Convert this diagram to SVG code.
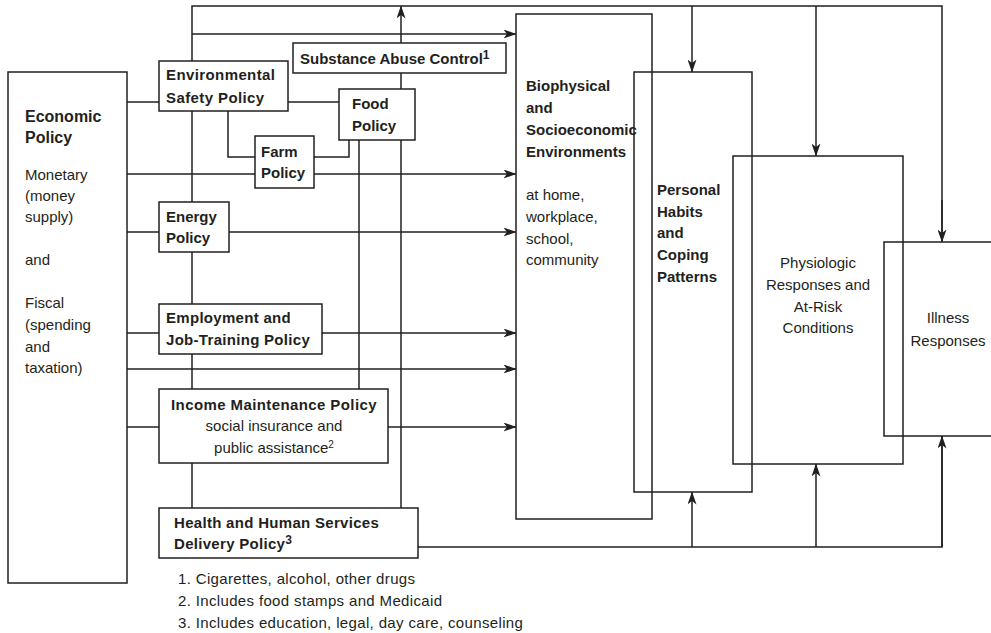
<svg xmlns="http://www.w3.org/2000/svg" width="991" height="633" viewBox="0 0 991 633">
<style>
  .box{fill:#fff;stroke:#231f20;stroke-width:1.5}
  .obox{fill:none;stroke:#231f20;stroke-width:1.5}
  .ln{fill:none;stroke:#231f20;stroke-width:1.5}
  .ar{marker-end:url(#arr)}
  text{font-family:"Liberation Sans",Arial,sans-serif;fill:#231f20}
  .b{font-weight:bold;font-size:15px}
  .bb{font-weight:bold;font-size:16px}
  .r{font-size:15px}
  .f{font-size:15px;letter-spacing:0.35px}
  .m{text-anchor:middle}
</style>
<defs>
  <marker id="arr" viewBox="0 0 13 9" refX="12.5" refY="4.5" markerWidth="13" markerHeight="9" markerUnits="userSpaceOnUse" orient="auto">
    <path d="M0,0 L13,4.5 L0,9 L3.5,4.5 Z" fill="#231f20"/>
  </marker>
</defs>

<g id="connectors">
  <polyline class="ln" points="192,61 192,6 942,6 942,241"/>
  <line class="ln ar" x1="692" y1="6" x2="692" y2="72"/>
  <line class="ln ar" x1="816" y1="6" x2="816" y2="156"/>
  <line class="ln ar" x1="942" y1="200" x2="942" y2="242"/>
  <line class="ln ar" x1="192" y1="34" x2="516" y2="34"/>
  <line class="ln ar" x1="401" y1="508" x2="401" y2="6"/>
  <line class="ln" x1="192" y1="111" x2="192" y2="508"/>
  <line class="ln" x1="127" y1="102" x2="339" y2="102"/>
  <polyline class="ln" points="228,111 228,157 255,157"/>
  <polyline class="ln" points="314,157 349,157 349,140"/>
  <line class="ln" x1="359" y1="140" x2="359" y2="389"/>
  <line class="ln ar" x1="127" y1="174" x2="516" y2="174"/>
  <line class="ln ar" x1="127" y1="232" x2="516" y2="232"/>
  <line class="ln ar" x1="127" y1="333" x2="516" y2="333"/>
  <line class="ln ar" x1="127" y1="369" x2="516" y2="369"/>
  <line class="ln ar" x1="127" y1="427" x2="516" y2="427"/>
  <polyline class="ln" points="418,547 942,547 942,436"/>
  <line class="ln ar" x1="942" y1="547" x2="942" y2="436"/>
  <line class="ln ar" x1="692" y1="547" x2="692" y2="492"/>
  <line class="ln ar" x1="816" y1="547" x2="816" y2="464"/>
</g>

<g id="economic">
  <rect class="box" x="8" y="72" width="119" height="511"/>
  <text class="bb" x="25" y="122">Economic</text>
  <text class="bb" x="25" y="143">Policy</text>
  <text class="r" x="25" y="180">Monetary</text>
  <text class="r" x="25" y="201">(money</text>
  <text class="r" x="25" y="222">supply)</text>
  <text class="r" x="25" y="265">and</text>
  <text class="r" x="25" y="308">Fiscal</text>
  <text class="r" x="25" y="330">(spending</text>
  <text class="r" x="25" y="352">and</text>
  <text class="r" x="25" y="373">taxation)</text>
</g>

<g id="substance">
  <rect class="box" x="293" y="43" width="213" height="30"/>
  <text class="b" x="300" y="64">Substance Abuse Control<tspan font-size="12" dy="-5">1</tspan></text>
</g>

<g id="environmental">
  <rect class="box" x="159" y="61" width="129" height="50"/>
  <text class="b" x="166" y="80" letter-spacing="0.4">Environmental</text>
  <text class="b" x="166" y="103" letter-spacing="0.4">Safety Policy</text>
</g>

<g id="food">
  <rect class="box" x="339" y="89" width="76" height="51"/>
  <text class="b" x="352" y="109">Food</text>
  <text class="b" x="352" y="131">Policy</text>
</g>

<g id="farm">
  <rect class="box" x="255" y="136" width="59" height="52"/>
  <text class="b" x="261" y="157">Farm</text>
  <text class="b" x="261" y="178">Policy</text>
</g>

<g id="energy">
  <rect class="box" x="159" y="202" width="70" height="50"/>
  <text class="b" x="166" y="222">Energy</text>
  <text class="b" x="166" y="243">Policy</text>
</g>

<g id="employment">
  <rect class="box" x="159" y="304" width="163" height="50"/>
  <text class="b" x="166" y="323" letter-spacing="0.3">Employment and</text>
  <text class="b" x="166" y="345" letter-spacing="0.3">Job-Training Policy</text>
</g>

<g id="income">
  <rect class="box" x="159" y="389" width="229" height="74"/>
  <text class="b m" x="274" y="410" letter-spacing="0.4">Income Maintenance Policy</text>
  <text class="r m" x="274" y="431">social insurance and</text>
  <text class="r m" x="274" y="453">public assistance<tspan font-size="10" dy="-5">2</tspan></text>
</g>

<g id="health">
  <rect class="box" x="159" y="508" width="259" height="50"/>
  <text class="b" x="174" y="528" letter-spacing="0.3">Health and Human Services</text>
  <text class="b" x="174" y="549" letter-spacing="0.3">Delivery Policy<tspan font-size="12" dy="-5">3</tspan></text>
</g>

<g id="biophysical">
  <rect class="obox" x="516" y="14" width="136" height="505"/>
  <text class="b" x="526" y="91">Biophysical</text>
  <text class="b" x="526" y="113">and</text>
  <text class="b" x="526" y="135">Socioeconomic</text>
  <text class="b" x="526" y="157">Environments</text>
  <text class="r" x="526" y="200">at home,</text>
  <text class="r" x="526" y="222">workplace,</text>
  <text class="r" x="526" y="244">school,</text>
  <text class="r" x="526" y="265">community</text>
</g>

<g id="personal">
  <rect class="obox" x="634" y="72" width="118" height="420"/>
  <text class="b" x="657" y="195">Personal</text>
  <text class="b" x="657" y="217">Habits</text>
  <text class="b" x="657" y="238">and</text>
  <text class="b" x="657" y="260">Coping</text>
  <text class="b" x="657" y="282">Patterns</text>
</g>

<g id="physiologic">
  <rect class="obox" x="733" y="156" width="170" height="308"/>
  <text class="r m" x="818" y="268">Physiologic</text>
  <text class="r m" x="818" y="290">Responses and</text>
  <text class="r m" x="818" y="312">At-Risk</text>
  <text class="r m" x="818" y="333">Conditions</text>
</g>

<g id="illness">
  <rect class="obox" x="884" y="242" width="120" height="194"/>
  <text class="r m" x="948" y="323">Illness</text>
  <text class="r m" x="948" y="346">Responses</text>
</g>

<g id="footnotes">
  <text class="f" x="178" y="584">1. Cigarettes, alcohol, other drugs</text>
  <text class="f" x="178" y="606">2. Includes food stamps and Medicaid</text>
  <text class="f" x="178" y="628">3. Includes education, legal, day care, counseling</text>
</g>
</svg>
